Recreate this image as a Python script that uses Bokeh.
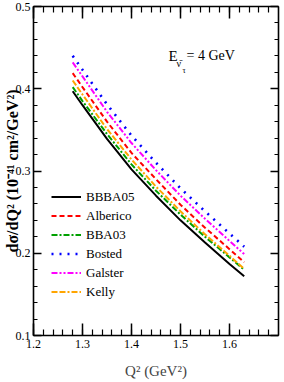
import math
from bokeh.plotting import figure
from bokeh.models import Range1d, LinearAxis, SingleIntervalTicker, Label, CustomJSTickFormatter
from bokeh.embed import file_html
from bokeh.resources import INLINE

# ---- data ----
q2 = [1.28, 1.30, 1.35, 1.40, 1.45, 1.50, 1.55, 1.60, 1.63]
bbba05   = [0.397, 0.380, 0.339, 0.302, 0.270, 0.240, 0.213, 0.187, 0.172]
alberico = [0.419, 0.402, 0.360, 0.322, 0.290, 0.259, 0.231, 0.205, 0.189]
bba03    = [0.402, 0.385, 0.345, 0.308, 0.276, 0.247, 0.220, 0.195, 0.180]
bosted   = [0.440, 0.423, 0.381, 0.343, 0.310, 0.279, 0.251, 0.224, 0.208]
galster  = [0.432, 0.415, 0.372, 0.334, 0.301, 0.270, 0.242, 0.215, 0.199]
kelly    = [0.410, 0.393, 0.351, 0.314, 0.281, 0.251, 0.223, 0.197, 0.181]

series_names = ["BBBA05", "Alberico", "BBA03", "Bosted", "Galster", "Kelly"]
series_vals = [bbba05, alberico, bba03, bosted, galster, kelly]
colors = ["#000000", "#ff0000", "#00a000", "#0000ff", "#ff00ff", "#ffa500"]
dashes = ["solid", "5 3", "6 2 2 2", "2 6", "6 2 2 2 2 2", "6 2 6 2 2 2"]

FONT = "Liberation Serif"

p = figure(width=284, height=382,
           x_range=Range1d(1.2, 1.7), y_range=Range1d(0.1, 0.5),
           output_backend="svg", toolbar_location=None,
           min_border_left=32, min_border_right=6,
           min_border_top=6, min_border_bottom=47,
           x_axis_label="Q² (GeV²)",
           y_axis_label="dσ/dQ² (10⁻⁴¹ cm²/GeV²)")
p.xgrid.visible = False
p.ygrid.visible = False
p.outline_line_color = None
p.background_fill_color = "white"
p.border_fill_color = "white"

p.add_layout(LinearAxis(), "above")
p.add_layout(LinearAxis(), "right")


def style(ax, tin, mtin, labels=True):
    ax.ticker = SingleIntervalTicker(interval=0.1, num_minor_ticks=5)
    ax.major_tick_in = tin
    ax.major_tick_out = 0
    ax.minor_tick_in = mtin
    ax.minor_tick_out = 0
    ax.axis_line_width = 1.6
    ax.major_tick_line_width = 1.5
    ax.minor_tick_line_width = 1.2
    ax.axis_line_color = "black"
    ax.major_tick_line_color = "black"
    ax.minor_tick_line_color = "black"
    ax.major_label_text_font = FONT
    ax.major_label_text_color = "black"
    ax.major_label_text_font_size = "12px"
    if labels:
        ax.major_label_standoff = 4
    else:
        ax.formatter = CustomJSTickFormatter(code="return ''")
        ax.major_label_standoff = 0


for ax in p.below:
    style(ax, 12, 6)
    ax.axis_label_text_font = FONT
    ax.axis_label_text_font_size = "15px"
    ax.axis_label_text_font_style = "normal"
    ax.axis_label_standoff = 12
for ax in p.above:
    style(ax, 12, 6, labels=False)
for ax in p.left:
    style(ax, 8, 4)
    ax.major_label_standoff = 3
    ax.axis_label_text_font = FONT
    ax.axis_label_text_font_size = "16px"
    ax.axis_label_text_font_style = "bold"
    ax.axis_label_text_color = "black"
    ax.axis_label_standoff = -8
for ax in p.right:
    style(ax, 8, 4, labels=False)

for name, vals, c, d in zip(series_names, series_vals, colors, dashes):
    w = 2.6 if name == "Bosted" else 2
    p.line(q2, vals, line_color=c, line_width=w, line_dash=d, legend_label=name)

lg = p.legend[0]
lg.location = (18, 34)
lg.border_line_color = None
lg.background_fill_alpha = 0
lg.padding = 0
lg.margin = 0
lg.spacing = 0
lg.glyph_height = 19
lg.label_height = 19
lg.glyph_width = 30
lg.label_standoff = 5
lg.label_text_font = FONT
lg.label_text_font_size = "13px"
lg.label_text_color = "black"

# energy annotation
p.add_layout(Label(x=135, y=280, x_units="screen", y_units="screen",
                   text="E", text_align="left", text_baseline="middle",
                   text_font=FONT, text_font_size="15px", text_color="black"))
p.add_layout(Label(x=143, y=272, x_units="screen", y_units="screen",
                   text="ν̄", text_align="left", text_baseline="middle",
                   text_font=FONT, text_font_size="10px", text_color="black"))
p.add_layout(Label(x=149, y=265, x_units="screen", y_units="screen",
                   text="τ", text_align="left", text_baseline="middle",
                   text_font=FONT, text_font_size="8px", text_color="black"))
p.add_layout(Label(x=153, y=280, x_units="screen", y_units="screen",
                   text="= 4 GeV", text_align="left", text_baseline="middle",
                   text_font=FONT, text_font_size="14px", text_color="black"))

open("out.html", "w").write(file_html(p, INLINE))
